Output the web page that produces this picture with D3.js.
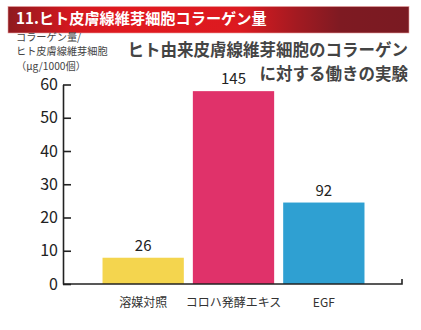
<!DOCTYPE html>
<html><head><meta charset="utf-8">
<script src="https://cdn.jsdelivr.net/npm/d3@7"></script>
<style>body{margin:0;background:#fff}svg{display:block}text{font-family:"Noto Sans CJK JP","Noto Sans",sans-serif}</style>
</head><body><svg id="c" width="421" height="330"></svg>
<script>
const categories = ["溶媒対照", "コロハ発酵エキス", "EGF"];
const values = [7.9, 58, 24.5];
const valueLabels = ["26", "145", "92"];
const colors = ["#f4d54e", "#e0326a", "#2fa0d2"];
const yTicks = [0, 10, 20, 30, 40, 50, 60];
const title = "11.ヒト皮膚線維芽細胞コラーゲン量";
const yTitle = ["コラーゲン量/", "ヒト皮膚線維芽細胞", "（μg/1000個）"];
const subtitle = ["ヒト由来皮膚線維芽細胞のコラーゲン", "に対する働きの実験"];

const svg = d3.select("#c");
const L = 63, R = 402, T = 84.5, B = 284;

// title bar
const defs = svg.append("defs");
const g = defs.append("linearGradient").attr("id", "tg");
[[0,"#8e1a1f"],[0.15,"#d2181f"],[0.3,"#e1191f"],[0.58,"#dc1a20"],[0.72,"#a31a21"],[0.83,"#7e1a22"],[1,"#7a1a22"]]
  .forEach(([o,c]) => g.append("stop").attr("offset", o).attr("stop-color", c));
svg.append("rect").attr("x", 8).attr("y", 6.5).attr("width", 401).attr("height", 26.5)
  .attr("fill", "url(#tg)").attr("stroke", "#e9a0a0").attr("stroke-width", 0.6);
svg.append("text").attr("x", 16).attr("y", 19).attr("dy", "0.36em")
  .attr("fill", "#fff").attr("font-size", 15.2).attr("font-weight", "bold").text(title);

const y = d3.scaleLinear().domain([0, 60]).range([B, T]);
const x = d3.scaleBand().domain(categories).range([98, 369]).paddingInner(0.1).paddingOuter(0.05);

// bars
svg.selectAll("rect.bar").data(values).join("rect").attr("class", "bar")
  .attr("x", (d, i) => x(categories[i])).attr("width", x.bandwidth())
  .attr("y", d => y(d)).attr("height", d => y(0) - y(d))
  .attr("fill", (d, i) => colors[i]);

// value labels
svg.selectAll("text.vl").data(values).join("text").attr("class", "vl")
  .attr("x", (d, i) => x(categories[i]) + x.bandwidth() / 2)
  .attr("y", d => y(d) - 7).attr("text-anchor", "middle")
  .attr("font-size", 15).attr("fill", "#222").attr("font-family", "'Open Sans','Noto Sans',sans-serif")
  .text((d, i) => valueLabels[i]);

// y axis
const ya = svg.append("g").attr("transform", `translate(${L},0)`)
  .call(d3.axisLeft(y).tickValues(yTicks).tickSize(-8).tickSizeOuter(0).tickPadding(5));
ya.select(".domain").attr("stroke", "#222").attr("stroke-width", 1.6);
ya.selectAll(".tick line").attr("stroke", "#222").attr("stroke-width", 1.6);
ya.selectAll(".tick text").attr("font-size", 16).attr("fill", "#222")
  .attr("font-family", "'Liberation Sans','Open Sans',sans-serif");

// x axis
svg.append("path").attr("d", `M${L},${y(0)}H${R}V${y(0) - 5}`)
  .attr("fill", "none").attr("stroke", "#222").attr("stroke-width", 1.6);
const xa = svg.append("g").attr("transform", `translate(0,${y(0)})`)
  .call(d3.axisBottom(x).tickSize(0).tickPadding(14));
xa.select(".domain").remove();
xa.selectAll(".tick text").attr("font-size", 12).attr("fill", "#333")
  .attr("font-family", "'Noto Sans CJK JP',sans-serif");

// y title (one text element, three lines)
svg.append("text").attr("font-size", 10.2).attr("fill", "#444")
  .selectAll("tspan").data(yTitle).join("tspan")
  .attr("x", 16).attr("y", (d, i) => 37 + i * 14.6).attr("dy", "0.36em").text(d => d);

// subtitle
svg.append("text").attr("text-anchor", "end").attr("font-size", 16.5).attr("font-weight", "bold")
  .attr("fill", "#444")
  .selectAll("tspan").data(subtitle).join("tspan")
  .attr("x", 408).attr("y", (d, i) => 50 + i * 24).attr("dy", "0.36em").text(d => d);
</script></body></html>
